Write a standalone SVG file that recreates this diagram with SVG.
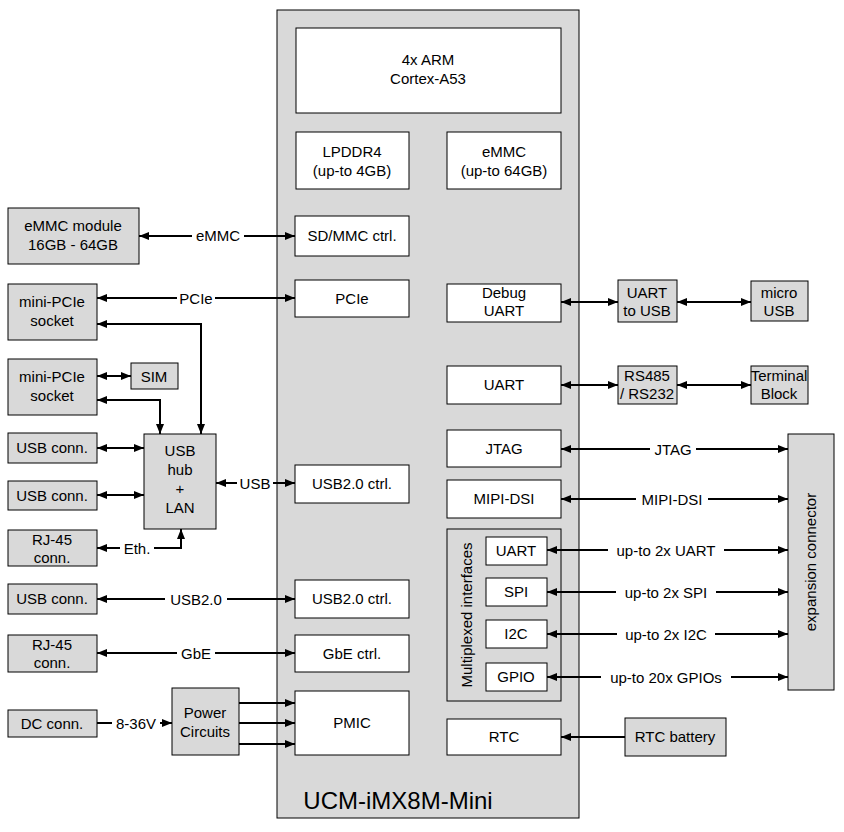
<svg xmlns="http://www.w3.org/2000/svg" width="844" height="832" viewBox="0 0 844 832">
<style>
.b{fill:#d9d9d9;stroke:#000;stroke-width:1}
.w{fill:#fff;stroke:#000;stroke-width:1}
text{font-family:"Liberation Sans",Arial,sans-serif;font-size:15px;fill:#000;text-anchor:middle}
.c line,.c path{stroke:#000;stroke-width:2;fill:none}
.lb{fill:#fff}
</style>
<defs>
<marker id="a" viewBox="0 0 10 10" refX="10" refY="5" markerWidth="5" markerHeight="5" orient="auto-start-reverse"><path d="M0,1L10,5L0,9z" fill="#000"/></marker>
</defs>
<rect width="844" height="832" fill="#fff"/>
<g id="main"><rect class="b" x="277" y="10" width="302" height="808"/><text x="398" y="809" style="font-size:24px">UCM-iMX8M-Mini</text></g>
<g id="arm"><rect class="w" x="296" y="28" width="265" height="85"/><text x="428" y="65">4x ARM</text><text x="428" y="84">Cortex-A53</text></g>
<g id="lpddr"><rect class="w" x="296" y="132" width="113" height="57"/><text x="352" y="157">LPDDR4</text><text x="352" y="176">(up-to 4GB)</text></g>
<g id="emmc"><rect class="w" x="447" y="132" width="114" height="57"/><text x="504" y="157">eMMC</text><text x="504" y="176">(up-to 64GB)</text></g>
<g id="sdmmc"><rect class="w" x="295" y="216" width="114" height="40"/><text x="352" y="241">SD/MMC ctrl.</text></g>
<g id="pcie"><rect class="w" x="295" y="280" width="114" height="37"/><text x="352" y="304">PCIe</text></g>
<g id="dbg"><rect class="w" x="447" y="284" width="114" height="38"/><text x="504" y="298">Debug</text><text x="504" y="316">UART</text></g>
<g id="uart"><rect class="w" x="447" y="366" width="114" height="38"/><text x="504" y="390">UART</text></g>
<g id="jtag"><rect class="w" x="447" y="430" width="114" height="37"/><text x="504" y="454">JTAG</text></g>
<g id="mipi"><rect class="w" x="447" y="480" width="114" height="38"/><text x="504" y="504">MIPI-DSI</text></g>
<g id="mux"><rect class="b" x="447" y="529" width="114" height="172"/><text transform="translate(472,615) rotate(-90)">Multiplexed interfaces</text>
<rect class="w" x="486" y="537" width="61" height="28"/><text x="516" y="556">UART</text>
<rect class="w" x="486" y="578" width="61" height="28"/><text x="516" y="597">SPI</text>
<rect class="w" x="486" y="620" width="61" height="28"/><text x="516" y="639">I2C</text>
<rect class="w" x="486" y="663" width="61" height="28"/><text x="516" y="682">GPIO</text></g>
<g id="usbc1"><rect class="w" x="295" y="465" width="114" height="38"/><text x="352" y="489">USB2.0 ctrl.</text></g>
<g id="usbc2"><rect class="w" x="295" y="580" width="114" height="38"/><text x="352" y="604">USB2.0 ctrl.</text></g>
<g id="gbe"><rect class="w" x="295" y="635" width="114" height="37"/><text x="352" y="659">GbE ctrl.</text></g>
<g id="pmic"><rect class="w" x="295" y="691" width="114" height="64"/><text x="352" y="728">PMIC</text></g>
<g id="rtc"><rect class="w" x="447" y="719" width="114" height="36"/><text x="504" y="742">RTC</text></g>
<g id="u2u"><rect class="b" x="618" y="280" width="59" height="42"/><text x="647" y="298">UART</text><text x="647" y="316">to USB</text></g>
<g id="musb"><rect class="b" x="751" y="281" width="57" height="40"/><text x="779" y="298">micro</text><text x="779" y="316">USB</text></g>
<g id="rs"><rect class="b" x="618" y="366" width="59" height="38"/><text x="647" y="381">RS485</text><text x="647" y="399">/ RS232</text></g>
<g id="tb"><rect class="b" x="751" y="366" width="57" height="38"/><text x="779" y="381">Terminal</text><text x="779" y="399">Block</text></g>
<g id="exp"><rect class="b" x="788" y="434" width="46" height="256"/><text transform="translate(816,562) rotate(-90)">expansion connector</text></g>
<g id="rtcb"><rect class="b" x="625" y="718" width="101" height="38"/><text x="675" y="742">RTC battery</text></g>
<g id="emod"><rect class="b" x="8" y="208" width="131" height="56"/><text x="73" y="231">eMMC module</text><text x="73" y="250">16GB - 64GB</text></g>
<g id="mp1"><rect class="b" x="8" y="284" width="89" height="56"/><text x="52" y="307">mini-PCIe</text><text x="52" y="326">socket</text></g>
<g id="mp2"><rect class="b" x="8" y="359" width="89" height="56"/><text x="52" y="382">mini-PCIe</text><text x="52" y="401">socket</text></g>
<g id="sim"><rect class="b" x="131" y="363" width="47" height="26"/><text x="154" y="382">SIM</text></g>
<g id="usb1"><rect class="b" x="8" y="433" width="89" height="30"/><text x="52" y="453">USB conn.</text></g>
<g id="usb2"><rect class="b" x="8" y="481" width="89" height="29"/><text x="52" y="501">USB conn.</text></g>
<g id="rj1"><rect class="b" x="8" y="530" width="89" height="36"/><text x="52" y="545">RJ-45</text><text x="52" y="563">conn.</text></g>
<g id="hub"><rect class="b" x="144" y="434" width="72" height="95"/><text x="180" y="456">USB</text><text x="180" y="475">hub</text><text x="180" y="494">+</text><text x="180" y="513">LAN</text></g>
<g id="usb3"><rect class="b" x="8" y="584" width="89" height="30"/><text x="52" y="604">USB conn.</text></g>
<g id="rj2"><rect class="b" x="8" y="635" width="89" height="37"/><text x="52" y="650">RJ-45</text><text x="52" y="668">conn.</text></g>
<g id="dc"><rect class="b" x="8" y="710" width="89" height="27"/><text x="52" y="729">DC conn.</text></g>
<g id="pwr"><rect class="b" x="172" y="688" width="67" height="67"/><text x="205" y="718">Power</text><text x="205" y="737">Circuits</text></g>
<g id="connectors" class="c">
<line x1="139" y1="236" x2="295" y2="236" marker-start="url(#a)" marker-end="url(#a)"/>
<line x1="97" y1="298" x2="295" y2="298" marker-start="url(#a)" marker-end="url(#a)"/>
<path d="M97,324H201V434" marker-start="url(#a)" marker-end="url(#a)"/>
<path d="M97,400H160V434" marker-start="url(#a)" marker-end="url(#a)"/>
<line x1="97" y1="376" x2="131" y2="376" marker-start="url(#a)" marker-end="url(#a)"/>
<line x1="97" y1="448" x2="144" y2="448" marker-start="url(#a)" marker-end="url(#a)"/>
<line x1="97" y1="495" x2="144" y2="495" marker-start="url(#a)" marker-end="url(#a)"/>
<path d="M97,548H181V529" marker-start="url(#a)" marker-end="url(#a)"/>
<line x1="216" y1="483" x2="295" y2="483" marker-start="url(#a)" marker-end="url(#a)"/>
<line x1="97" y1="599" x2="295" y2="599" marker-start="url(#a)" marker-end="url(#a)"/>
<line x1="97" y1="653" x2="295" y2="653" marker-start="url(#a)" marker-end="url(#a)"/>
<line x1="97" y1="723" x2="172" y2="723" marker-end="url(#a)"/>
<line x1="239" y1="703" x2="295" y2="703" marker-end="url(#a)"/>
<line x1="239" y1="723" x2="295" y2="723" marker-end="url(#a)"/>
<line x1="239" y1="744" x2="295" y2="744" marker-end="url(#a)"/>
<line x1="561" y1="302" x2="618" y2="302" marker-start="url(#a)" marker-end="url(#a)"/>
<line x1="677" y1="302" x2="751" y2="302" marker-start="url(#a)" marker-end="url(#a)"/>
<line x1="561" y1="385" x2="618" y2="385" marker-start="url(#a)" marker-end="url(#a)"/>
<line x1="677" y1="385" x2="751" y2="385" marker-start="url(#a)" marker-end="url(#a)"/>
<line x1="561" y1="449" x2="788" y2="449" marker-start="url(#a)" marker-end="url(#a)"/>
<line x1="561" y1="499" x2="788" y2="499" marker-start="url(#a)" marker-end="url(#a)"/>
<line x1="547" y1="550" x2="788" y2="550" marker-start="url(#a)" marker-end="url(#a)"/>
<line x1="547" y1="592" x2="788" y2="592" marker-start="url(#a)" marker-end="url(#a)"/>
<line x1="547" y1="634" x2="788" y2="634" marker-start="url(#a)" marker-end="url(#a)"/>
<line x1="547" y1="677" x2="788" y2="677" marker-start="url(#a)" marker-end="url(#a)"/>
<line x1="625" y1="737" x2="561" y2="737" marker-end="url(#a)"/>
</g>
<g id="labels">
<rect class="lb" x="192" y="228" width="52" height="16"/><text x="218" y="241">eMMC</text>
<rect class="lb" x="177" y="290" width="38" height="16"/><text x="196" y="304">PCIe</text>
<rect class="lb" x="120" y="540" width="34" height="16"/><text x="137" y="554">Eth.</text>
<rect class="lb" x="237" y="475" width="36" height="16"/><text x="255" y="489">USB</text>
<rect class="lb" x="165" y="591" width="62" height="16"/><text x="196" y="605">USB2.0</text>
<rect class="lb" x="177" y="645" width="38" height="16"/><text x="196" y="659">GbE</text>
<rect class="lb" x="112" y="715" width="48" height="16"/><text x="136" y="729">8-36V</text>
<rect class="lb" x="650" y="441" width="46" height="16"/><text x="673" y="455">JTAG</text>
<rect class="lb" x="636" y="491" width="72" height="16"/><text x="672" y="505">MIPI-DSI</text>
<rect class="lb" x="608" y="542" width="116" height="16"/><text x="666" y="556">up-to 2x UART</text>
<rect class="lb" x="616" y="584" width="100" height="16"/><text x="666" y="598">up-to 2x SPI</text>
<rect class="lb" x="617" y="626" width="98" height="16"/><text x="666" y="640">up-to 2x I2C</text>
<rect class="lb" x="601" y="669" width="130" height="16"/><text x="666" y="683">up-to 20x GPIOs</text>
</g>
</svg>
